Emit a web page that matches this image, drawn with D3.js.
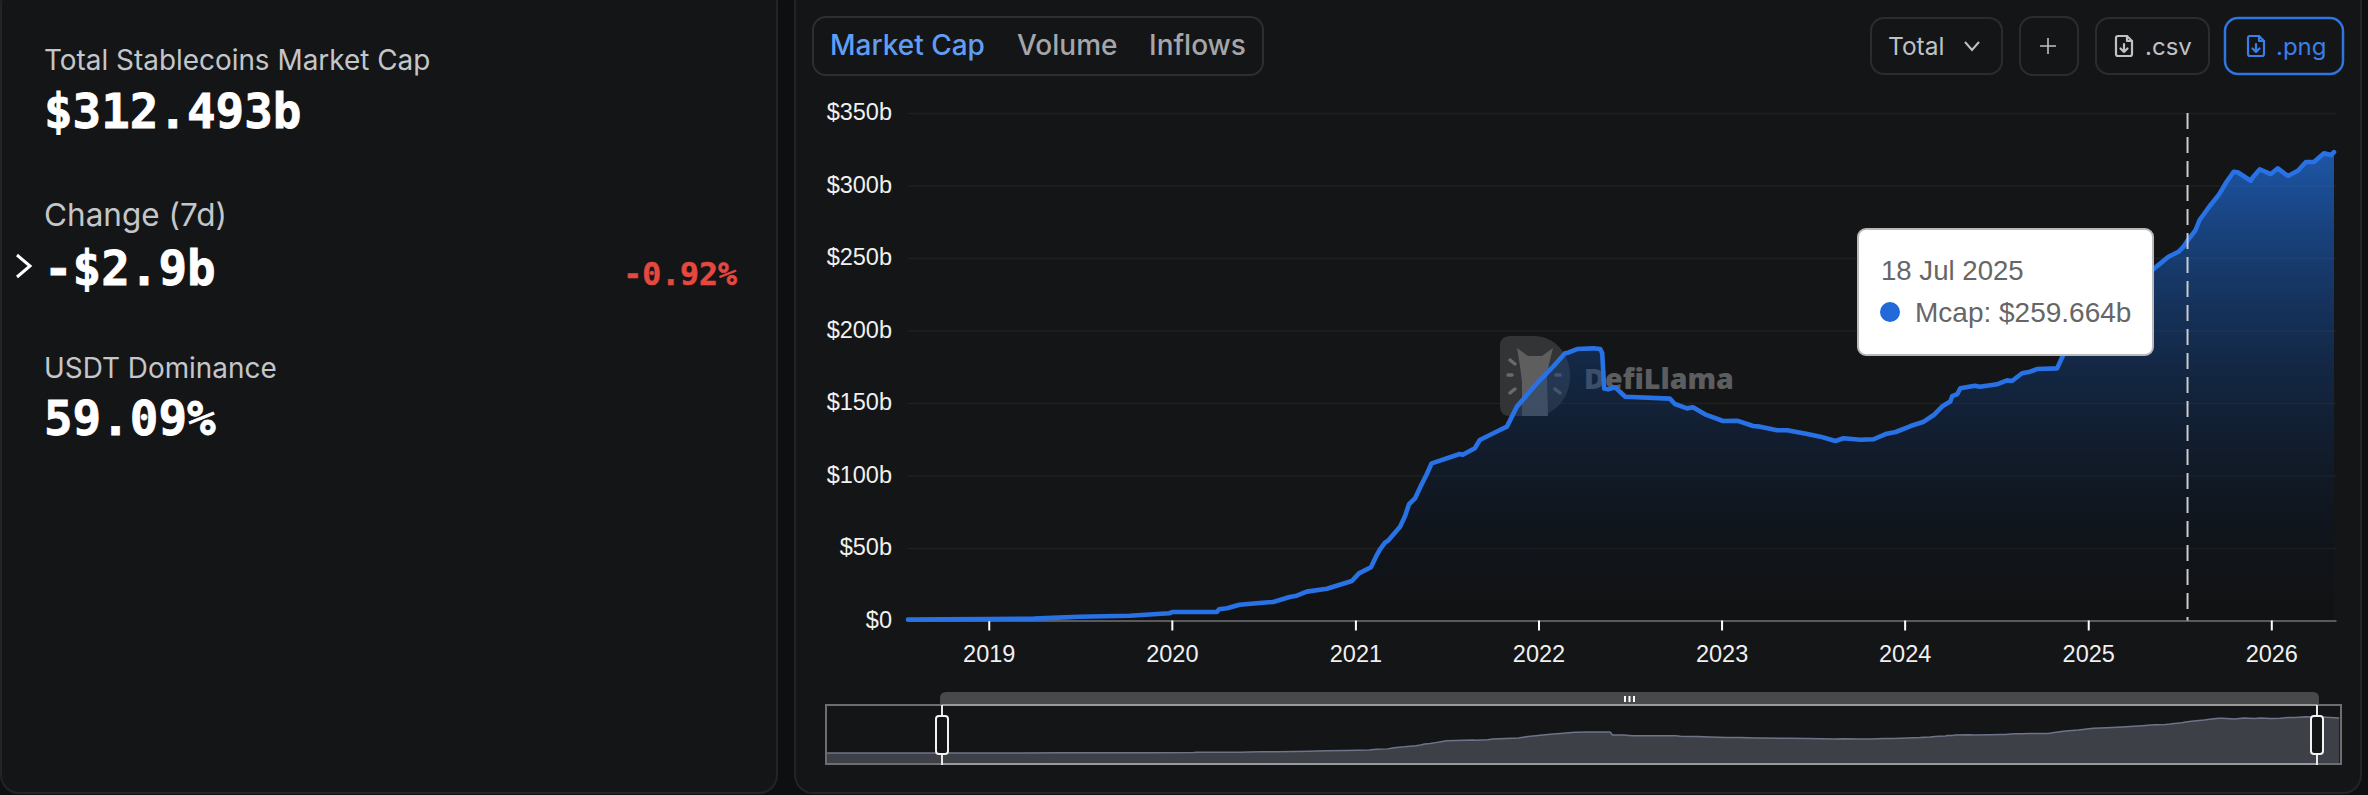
<!DOCTYPE html>
<html>
<head>
<meta charset="utf-8">
<title>Total Stablecoins Market Cap</title>
<script src="https://cdn.jsdelivr.net/npm/d3@7"></script>
<style>
  html, body { margin: 0; background: #0e0f11; overflow: hidden; }
  svg { display: block; }
  text { font-family: Inter, sans-serif; }
  .mono { font-family: "DejaVu Sans Mono", monospace; font-weight: 700; }
  .axis text, .tip { font-family: "Liberation Sans", Arial, sans-serif; }
</style>
</head>
<body>
<svg id="chart" width="2368" height="795"></svg>
<script>
// values, in $b
const dates = [
  '2018-07-24','2018-10-01','2019-01-01','2019-04-01','2019-05-20','2019-07-01','2019-10-09','2019-12-27','2020-01-03',
  '2020-03-31','2020-04-04','2020-04-20','2020-05-15','2020-06-18','2020-07-21','2020-08-23','2020-09-06','2020-09-26',
  '2020-11-05','2020-12-01','2020-12-25','2021-01-08','2021-02-01','2021-02-11','2021-02-19','2021-03-01','2021-03-07',
  '2021-03-31','2021-04-10','2021-04-18','2021-04-30','2021-05-14','2021-05-22','2021-06-02','2021-07-28','2021-08-03',
  '2021-08-27','2021-09-06','2021-10-16','2021-10-30','2021-11-19','2021-12-09','2021-12-29','2022-01-30','2022-02-23',
  '2022-03-01','2022-03-19','2022-04-20','2022-05-04','2022-05-08','2022-05-12','2022-05-20','2022-06-03','2022-06-23',
  '2022-09-20','2022-09-30','2022-10-24','2022-11-05','2022-11-29','2023-01-04','2023-02-01','2023-03-05','2023-03-19',
  '2023-04-22','2023-05-12','2023-06-21','2023-07-17','2023-08-16','2023-09-01','2023-10-05','2023-10-31','2023-11-24',
  '2023-12-14','2024-01-13','2024-02-08','2024-02-28','2024-03-17','2024-04-01','2024-04-05','2024-04-15','2024-04-21',
  '2024-05-20','2024-05-30','2024-07-03','2024-07-23','2024-08-02','2024-08-22','2024-09-07','2024-09-21','2024-10-31',
  '2024-11-12','2024-12-05','2025-01-01','2025-02-01','2025-03-01','2025-04-01','2025-05-13','2025-05-25','2025-06-10',
  '2025-06-30','2025-07-10','2025-07-18','2025-08-03','2025-08-11','2025-08-23','2025-09-02','2025-09-18','2025-10-04',
  '2025-10-18','2025-10-26','2025-11-21','2025-11-25','2025-12-09','2025-12-31','2026-01-14','2026-02-03','2026-02-23',
  '2026-03-11','2026-03-27','2026-04-16','2026-04-30','2026-05-06'
];
const mcap = [
  0.6,0.8,1.0,1.3,2.0,2.6,3.3,5.0,5.9,
  5.9,7.7,8.4,10.9,11.9,12.8,16.2,17.1,19.9,
  21.9,24.7,27.2,32.5,36.7,44,49,53.7,55,
  64.7,72,80.3,84.3,94.6,100,108.4,114.8,114.3,
  118.8,124.5,131.4,133.7,147.5,155.5,163.6,175,184.3,
  184.7,187.2,187.7,187.2,184.5,160,159.4,160.8,154.3,
  153,149.3,146.3,147,142.2,137.6,137.8,134.1,133.7,
  131.2,131.2,128.6,126.8,123.8,125.7,124.7,125,128.6,
  130,134.1,137.1,141.7,148,151,154.8,156.2,160.1,
  161.9,161.2,162.9,165.6,165.2,170.5,171.6,173.4,173.9,
  183.1,195,205,220,225,232,242.9,246.3,250.9,
  254.3,257.8,262,269.3,276.2,281.9,286.6,293.4,302.6,
  309.5,309.1,303.3,305.6,311.2,307.9,311.8,306.6,310.2,
  316.2,316.2,322.2,321,323
];
// the overview strip also shows data outside the zoomed window
const overviewHeadDates = ['2017-11-28','2018-03-01'];
const overviewHeadValues = [0.4, 0.5];
const overviewTailDates = ['2026-05-20','2026-06-25'];
const overviewTailValues = [320, 312.5];

const yTicks = [0, 50, 100, 150, 200, 250, 300, 350];
const xYears = [2019, 2020, 2021, 2022, 2023, 2024, 2025, 2026];
const tabs = ['Market Cap', 'Volume', 'Inflows'];
const stats = [
  { label: 'Total Stablecoins Market Cap', value: '$312.493b' },
  { label: 'Change (7d)', value: '-$2.9b' },
  { label: 'USDT Dominance', value: '59.09%' },
];
const hoverDate = '2025-07-18';
const hoverLabel = '18 Jul 2025';
const hoverValue = 'Mcap: $259.664b';

const parse = d3.utcParse('%Y-%m-%d');
const points = dates.map((d, i) => ({ date: parse(d), value: mcap[i] }));
const overview = [
  ...overviewHeadDates.map((d, i) => ({ date: parse(d), value: overviewHeadValues[i] })),
  ...points,
  ...overviewTailDates.map((d, i) => ({ date: parse(d), value: overviewTailValues[i] })),
];

const svg = d3.select('#chart');
const PANEL = '#141517', BORDER = '#232427', BLUE = '#2872e6';

// panels
svg.append('rect').attr('x', 1).attr('y', -14).attr('width', 776).attr('height', 807)
  .attr('rx', 18).attr('fill', PANEL).attr('stroke', BORDER).attr('stroke-width', 2);
svg.append('rect').attr('x', 795).attr('y', -14).attr('width', 1566).attr('height', 807)
  .attr('rx', 18).attr('fill', PANEL).attr('stroke', BORDER).attr('stroke-width', 2);

// left stats column
const statY = [[70, 128], [226, 285], [378, 435]];
const statSize = [27.9, 31.5, 27.9];
stats.forEach((s, i) => {
  svg.append('text').attr('x', 44).attr('y', statY[i][0]).attr('font-size', statSize[i])
    .attr('fill', '#c4c6c9').text(s.label);
  svg.append('text').attr('class', 'mono').attr('x', 44).attr('y', statY[i][1]).attr('font-size', 47.5)
    .attr('fill', '#fff').attr('stroke', '#fff').attr('stroke-width', 0.8).text(s.value);
});
svg.append('text').attr('class', 'mono').attr('x', 737).attr('y', 285).attr('text-anchor', 'end')
  .attr('font-size', 31.5).attr('fill', '#e5483f').attr('stroke', '#e5483f').attr('stroke-width', 0.5).text('-0.92%');
svg.append('path').attr('d', 'M17,255L30,266L17,277').attr('fill', 'none').attr('stroke', '#fff').attr('stroke-width', 3);

// toolbar
function box(x0, x1, y0, y1, stroke, w) {
  svg.append('rect').attr('x', x0).attr('y', y0).attr('width', x1 - x0).attr('height', y1 - y0)
    .attr('rx', 13).attr('fill', 'none').attr('stroke', stroke).attr('stroke-width', w || 2);
}
function fileIcon(x, color) {
  const g = svg.append('g').attr('transform', `translate(${x},35)`).attr('fill', 'none')
    .attr('stroke', color).attr('stroke-width', 2.2).attr('stroke-linejoin', 'round').attr('stroke-linecap', 'round');
  g.append('path').attr('d', 'M12,1H3Q1,1 1,3V19Q1,21 3,21H15Q17,21 17,19V6Z');
  g.append('path').attr('d', 'M12,1V6H17');
  g.append('path').attr('d', 'M9,9V17M5.5,13.5L9,17L12.5,13.5');
}
box(813, 1263, 17, 75, '#2d2e31');
const tabX = [830, 1017, 1149];
tabs.forEach((t, i) => {
  svg.append('text').attr('x', tabX[i]).attr('y', 55).attr('font-size', 28).attr('font-weight', 500)
    .attr('fill', i === 0 ? '#5f9ef5' : '#a4a6a9').text(t);
});
box(1871, 2002, 18, 74, '#2b2c2f');
svg.append('text').attr('x', 1888).attr('y', 55).attr('font-size', 24.5).attr('fill', '#bfc1c3').text('Total');
svg.append('path').attr('d', 'M1965,42L1972,50L1979,42').attr('fill', 'none').attr('stroke', '#bfc1c3').attr('stroke-width', 2);
box(2020, 2078, 17, 75, '#2b2c2f');
svg.append('path').attr('d', 'M2040,46H2056M2048,38V54').attr('stroke', '#bfc1c3').attr('stroke-width', 1.6);
box(2096, 2209, 18, 74, '#2b2c2f');
fileIcon(2115, '#bfc1c3');
svg.append('text').attr('x', 2145).attr('y', 55).attr('font-size', 24).attr('fill', '#bfc1c3').text('.csv');
box(2225, 2343, 18, 74, '#2f75e0', 2.5);
fileIcon(2247, '#3a7fe5');
svg.append('text').attr('x', 2276).attr('y', 55).attr('font-size', 24).attr('fill', '#3a7fe5').text('.png');

// scales
const plotLeft = 908, plotRight = 2336, plotBottom = 620.5, plotTop = 113;
const x = d3.scaleUtc().domain([parse('2018-07-24'), parse('2026-05-10')]).range([plotLeft, plotRight]);
const y = d3.scaleLinear().domain([0, 350]).range([plotBottom, plotTop]);

// gridlines and axes
const yAxis = svg.append('g').attr('class', 'axis').attr('transform', `translate(${plotLeft},0)`)
  .call(d3.axisLeft(y).tickValues(yTicks).tickFormat(d => `$${d}${d ? 'b' : ''}`).tickSize(0).tickPadding(16));
yAxis.select('.domain').remove();
yAxis.selectAll('text').attr('font-size', 23.5).attr('fill', '#f0f0f0').attr('transform', 'translate(0,-1)');
yAxis.selectAll('line').filter(d => d !== 0)
  .attr('x2', plotRight - plotLeft).attr('stroke', '#1f2023').attr('stroke-width', 1.5);

// watermark sits under the area
const mark = svg.append('g').attr('transform', 'translate(1500,336)');
mark.append('path').attr('d', 'M10,0H34C55,0 70,18 70,40C70,62 55,80 34,80H10Q0,80 0,70V10Q0,0 10,0Z').attr('fill', '#333436');
mark.append('path').attr('d', 'M17,12L28,20H42L53,12L49,28L47,42L48,80H22L22,46L20,30Z').attr('fill', '#5e5e5f');
mark.append('g').attr('stroke', '#6a6a6b').attr('stroke-width', 3.5).attr('stroke-linecap', 'round')
  .selectAll('path').data(['M10,24L15,28', 'M8,39H12', 'M10,57L15,53', 'M56,39H60', 'M55,53L60,57'])
  .join('path').attr('d', d => d);
svg.append('text').attr('x', 1584).attr('y', 389)
  .style('font-family', '"Open Sans", sans-serif').attr('font-size', 28.6).attr('font-weight', 800)
  .attr('fill', '#5c5d5f').text('DefiLlama');

// area + line
const defs = svg.append('defs');
const grad = defs.append('linearGradient').attr('id', 'areaFill').attr('gradientUnits', 'userSpaceOnUse')
  .attr('x1', 0).attr('x2', 0).attr('y1', y(d3.max(mcap))).attr('y2', plotBottom);
grad.append('stop').attr('offset', 0).attr('stop-color', 'rgb(33,114,229)').attr('stop-opacity', 0.7);
grad.append('stop').attr('offset', 1).attr('stop-color', '#000').attr('stop-opacity', 0.15);

svg.append('path').datum(points).attr('fill', 'url(#areaFill)')
  .attr('d', d3.area().x(d => x(d.date)).y0(plotBottom).y1(d => y(d.value)));

const xAxis = svg.append('g').attr('class', 'axis').attr('transform', `translate(0,${plotBottom})`)
  .call(d3.axisBottom(x).tickValues(xYears.map(v => new Date(Date.UTC(v, 0, 1)))).tickFormat(d3.utcFormat('%Y')).tickSize(10).tickPadding(15).tickSizeOuter(0));
xAxis.select('.domain').attr('stroke', '#5a5a5c').attr('stroke-width', 2);
xAxis.selectAll('line').attr('stroke', '#fff').attr('stroke-width', 2);
xAxis.selectAll('text').attr('font-size', 23.5).attr('fill', '#f0f0f0');

svg.append('path').datum(points).attr('fill', 'none').attr('stroke', BLUE).attr('stroke-width', 4.6)
  .attr('stroke-linejoin', 'round').attr('stroke-linecap', 'round')
  .attr('d', d3.line().x(d => x(d.date)).y(d => y(d.value)));

// hover crosshair + tooltip
const hx = x(parse(hoverDate));
svg.append('line').attr('x1', hx).attr('x2', hx).attr('y1', plotTop).attr('y2', plotBottom)
  .attr('stroke', '#c9cbce').attr('stroke-width', 2).attr('stroke-dasharray', '16 8');
svg.append('rect').attr('x', 1858).attr('y', 229).attr('width', 295).attr('height', 126).attr('rx', 8)
  .attr('fill', '#fff').attr('stroke', '#b9b9b9').attr('stroke-width', 2);
svg.append('text').attr('class', 'tip').attr('x', 1881).attr('y', 280).attr('font-size', 27.6).attr('fill', '#666').text(hoverLabel);
svg.append('circle').attr('cx', 1890).attr('cy', 312).attr('r', 10).attr('fill', '#2169d9');
svg.append('text').attr('class', 'tip').attr('x', 1915).attr('y', 322).attr('font-size', 28).attr('fill', '#666').text(hoverValue);

// overview strip, same time scale carried past the window on both sides
const sliderLeft = 942, sliderRight = 2317;
const ox = d3.scaleUtc().domain(x.domain()).range([sliderLeft, sliderRight]);
const oy = d3.scaleLinear().domain([0, 323]).range([753, 716.7]);
svg.append('path').datum(overview).attr('fill', '#3e4047')
  .attr('d', d3.area().x(d => ox(d.date)).y0(763).y1(d => oy(d.value)));
svg.append('path').datum(overview).attr('fill', 'none').attr('stroke', '#6d7488').attr('stroke-width', 1.5)
  .attr('d', d3.line().x(d => ox(d.date)).y(d => oy(d.value)));
svg.append('path').attr('fill', '#48494b')
  .attr('d', `M${sliderLeft - 2},705V698Q${sliderLeft - 2},692 ${sliderLeft + 4},692H${sliderRight - 4}Q${sliderRight + 2},692 ${sliderRight + 2},698V705Z`);
svg.append('path').attr('d', 'M1625,696V702M1629.5,696V702M1634,696V702').attr('stroke', '#fff').attr('stroke-width', 2);
svg.append('rect').attr('x', 826).attr('y', 705).attr('width', 1515).attr('height', 59)
  .attr('fill', 'none').attr('stroke', '#6e6e70').attr('stroke-width', 2);
svg.append('path').attr('d', `M${sliderLeft},705H${sliderRight}M${sliderLeft},764H${sliderRight}`).attr('stroke', '#9a9a9c').attr('stroke-width', 2);
[sliderLeft, sliderRight].forEach(hxs => {
  svg.append('line').attr('x1', hxs).attr('x2', hxs).attr('y1', 705).attr('y2', 765).attr('stroke', '#e8e8e8').attr('stroke-width', 2);
  svg.append('rect').attr('x', hxs - 6).attr('y', 716).attr('width', 12).attr('height', 38).attr('rx', 3)
    .attr('fill', PANEL).attr('stroke', '#f2f2f2').attr('stroke-width', 2);
});
</script>
</body>
</html>
